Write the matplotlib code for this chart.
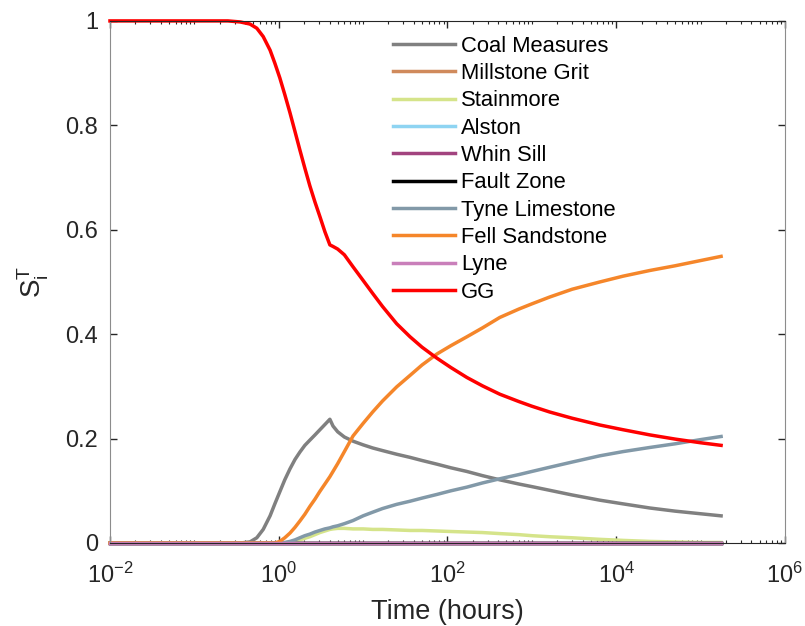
import math
import matplotlib
matplotlib.use("Agg")
import matplotlib.pyplot as plt
from matplotlib.ticker import FixedLocator, FuncFormatter, LogLocator, NullFormatter

plt.rcParams["font.family"] = ["Liberation Sans", "DejaVu Sans"]
plt.rcParams["mathtext.fontset"] = "custom"
plt.rcParams["mathtext.rm"] = "Liberation Sans"
plt.rcParams["mathtext.it"] = "Liberation Sans:italic"

time = [0.01, 0.1, 0.25, 0.35, 0.456, 0.55, 0.655, 0.79, 0.9, 1.03, 1.18, 1.36, 1.56,
        1.78, 2.04, 2.34, 2.69, 3.08, 3.53, 4.04, 4.4, 5.0, 6.0, 7.6, 10, 13, 17, 25,
        36, 50, 75, 110, 170, 260, 417, 700, 1000, 1620, 3000, 6400, 12000, 25100,
        50000, 1.0e5, 1.75e5]

coal = [0, 0, 0, 0, 0.002, 0.01, 0.026, 0.052, 0.075, 0.098, 0.121, 0.142, 0.16,
        0.174, 0.187, 0.197, 0.207, 0.217, 0.227, 0.237, 0.224, 0.213, 0.203, 0.195,
        0.188, 0.182, 0.177, 0.17, 0.164, 0.158, 0.151, 0.144, 0.137, 0.129, 0.121,
        0.113, 0.108, 0.101, 0.092, 0.082, 0.075, 0.067, 0.061, 0.056, 0.052]
stainmore = [0, 0, 0, 0, 0, 0, 0, 0, 0, 0, 0, 0.002, 0.004,
             0.006, 0.009, 0.012, 0.016, 0.02, 0.023, 0.026, 0.027, 0.028, 0.028, 0.027,
             0.027, 0.026, 0.026, 0.025, 0.024, 0.024, 0.023, 0.022, 0.021, 0.02, 0.018,
             0.016, 0.014, 0.012, 0.01, 0.007, 0.005, 0.003, 0.002, 0.001, 0.001]
tyne = [0, 0, 0, 0, 0, 0, 0, 0, 0, 0, 0.001, 0.003, 0.006,
        0.01, 0.014, 0.017, 0.021, 0.024, 0.027, 0.029, 0.031, 0.033, 0.037, 0.043,
        0.052, 0.059, 0.066, 0.074, 0.08, 0.086, 0.093, 0.1, 0.107, 0.115, 0.123,
        0.131, 0.137, 0.145, 0.155, 0.167, 0.175, 0.183, 0.19, 0.198, 0.204]
fell = [0, 0, 0, 0, 0, 0, 0, 0, 0, 0.003, 0.01, 0.019, 0.03,
        0.042, 0.055, 0.07, 0.084, 0.099, 0.113, 0.127, 0.137, 0.152, 0.175, 0.205,
        0.229, 0.251, 0.272, 0.299, 0.321, 0.341, 0.362, 0.378, 0.395, 0.412, 0.432,
        0.448, 0.458, 0.471, 0.486, 0.5, 0.511, 0.522, 0.531, 0.541, 0.549]
gg = [1, 1, 1, 0.998, 0.994, 0.986, 0.97, 0.944, 0.919, 0.891, 0.859, 0.824, 0.788,
      0.753, 0.718, 0.684, 0.653, 0.625, 0.596, 0.571, 0.568, 0.563, 0.552, 0.529,
      0.503, 0.478, 0.453, 0.42, 0.395, 0.375, 0.354, 0.336, 0.317, 0.301, 0.285,
      0.271, 0.262, 0.251, 0.239, 0.226, 0.217, 0.207, 0.199, 0.192, 0.187]

# units that stay at zero over the whole run
time_flat = [0.01, 1.75e5]
zero = [0, 0]

names = ["Coal Measures", "Millstone Grit", "Stainmore", "Alston", "Whin Sill",
         "Fault Zone", "Tyne Limestone", "Fell Sandstone", "Lyne", "GG"]
colors = ["#808080", "#D08A5C", "#D5E48A", "#8ED4F2", "#A2437F",
          "#000000", "#8299A8", "#F5862A", "#C97FBA", "#FF0000"]

series = [(time, coal), (time_flat, zero), (time, stainmore), (time_flat, zero),
          (time_flat, zero), (time_flat, zero), (time, tyne), (time, fell),
          (time_flat, zero), (time, gg)]

fig = plt.figure(figsize=(8.05, 6.26), dpi=100)
ax = fig.add_axes([0.1366, 0.1326, 0.8385, 0.834])

for (t, v), name, c in zip(series, names, colors):
    ax.semilogx(t, v, color=c, lw=2.5, label=name, clip_on=False,
                solid_joinstyle="round")

ax.set_xlim(1e-2, 1e6)
ax.set_ylim(0, 1)
ax.xaxis.set_major_locator(FixedLocator([1e-2, 1, 1e2, 1e4, 1e6]))
ax.xaxis.set_minor_locator(LogLocator(base=10, subs=range(1, 10), numticks=20))
ax.xaxis.set_minor_formatter(NullFormatter())
ax.xaxis.set_major_formatter(
    FuncFormatter(lambda v, p: r"$\mathrm{10^{%d}}$" % round(math.log10(v))))
ax.set_yticks([0, 0.2, 0.4, 0.6, 0.8, 1])
ax.yaxis.set_major_formatter(FuncFormatter(lambda v, p: "%g" % v))

ax.tick_params(which="both", direction="in", top=True, right=True,
               labelsize=17, colors="#262626")
ax.tick_params(axis="x", which="major", pad=14)
ax.tick_params(axis="y", which="major", pad=8.5)
ax.tick_params(which="major", length=5, width=1)
ax.tick_params(which="minor", length=2.5, width=0.8)
for side in ["top", "bottom"]:
    ax.spines[side].set_color("#262626")
for side in ["left", "right"]:
    ax.spines[side].set_color("#8c8c8c")

ax.set_xlabel("Time (hours)", fontsize=19.5, color="#262626", labelpad=8)
ax.set_ylabel(r"$\mathrm{S_i^T}$", fontsize=20, color="#262626", labelpad=10)

ax.legend(loc="upper left", bbox_to_anchor=(0.419, 0.972), frameon=False,
          fontsize=15.8, handlelength=2.83, handletextpad=0.27, labelspacing=0.29,
          borderpad=0, borderaxespad=0)

fig.savefig("out.png", dpi=100)
